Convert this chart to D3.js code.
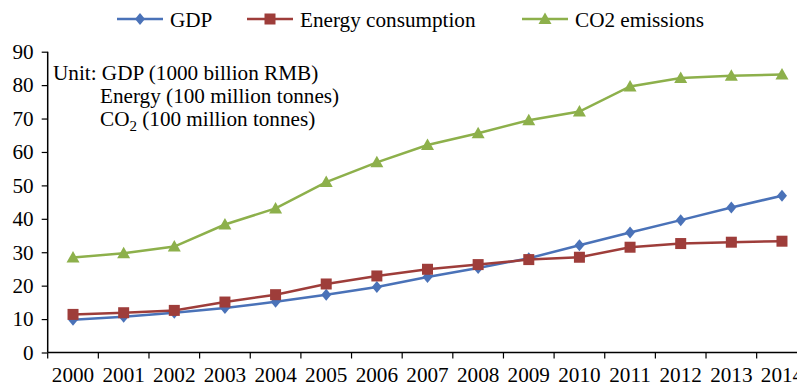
<!DOCTYPE html>
<html><head><meta charset="utf-8">
<script src="https://cdn.jsdelivr.net/npm/d3@7/dist/d3.min.js"></script>
<style>
body{margin:0;background:#fff;}
svg{display:block;font-family:"Liberation Serif","Times New Roman",serif;}
</style></head>
<body><svg id="c" width="797" height="386"></svg>
<script>
const years = ["2000","2001","2002","2003","2004","2005","2006","2007","2008","2009","2010","2011","2012","2013","2014"];
const gdp = [9.8,10.7,11.9,13.3,15.2,17.3,19.6,22.6,25.3,28.2,32.1,35.9,39.6,43.4,46.9];
const energy = [11.4,11.9,12.6,15.1,17.3,20.5,22.9,24.9,26.3,27.8,28.5,31.5,32.6,33.0,33.3];
const co2 = [28.4,29.7,31.7,38.3,43.1,51.0,56.9,62.1,65.6,69.5,72.1,79.6,82.1,82.8,83.2];
const yTicks = [0,10,20,30,40,50,60,70,80,90];
const seriesNames = ["GDP","Energy consumption","CO2 emissions"];
const colors = ["#4A72B8","#9E3D3A","#8DB04B"];

const FS = 21.2;
const svg = d3.select("#c");
const x = d3.scaleBand().domain(years).range([47.7, 807.3]).padding(0);
const y = d3.scaleLinear().domain([0,90]).range([352.5,51.7]);

// axes
const yAxis = svg.append("g").attr("transform","translate(47.7,0)")
  .call(d3.axisLeft(y).tickValues(yTicks).tickSize(6).tickPadding(8));
yAxis.select(".domain").attr("stroke","#000").attr("stroke-width",1.5).attr("d","M0,352.5V51.7");
yAxis.selectAll(".tick line").attr("stroke","#000").attr("stroke-width",1.2);
yAxis.selectAll(".tick text").attr("font-size",FS).attr("font-family","Liberation Serif").attr("fill","#000");

const xAxis = svg.append("g").attr("transform","translate(0,352.5)")
  .call(d3.axisBottom(x).tickSize(0).tickPadding(0));
xAxis.select(".domain").attr("stroke","#000").attr("stroke-width",1.5).attr("d","M47.7,0H807.3");
xAxis.selectAll(".tick text").attr("font-size",FS).attr("font-family","Liberation Serif").attr("fill","#000")
  .attr("dy",null).attr("y",29);
// band boundary ticks
svg.append("g").selectAll("line").data(years).join("line")
  .attr("x1",d=>x(d)).attr("x2",d=>x(d)).attr("y1",352.5).attr("y2",358.5)
  .attr("stroke","#000").attr("stroke-width",1.2);

const cx = d => x(d) + x.bandwidth()/2;
const line = d3.line().x((d,i)=>cx(years[i])).y(d=>y(d));

const data = [gdp, energy, co2];

function marker(g, k, px, py){
  if (k===0){
    g.append("path").attr("d",`M${px},${py-6}L${px+5},${py}L${px},${py+6}L${px-5},${py}Z`).attr("fill",colors[k]);
  } else if (k===1){
    g.append("rect").attr("x",px-5.5).attr("y",py-5.5).attr("width",11).attr("height",11).attr("fill",colors[k]);
  } else {
    g.append("path").attr("d",`M${px},${py-6.5}L${px+6.5},${py+5}L${px-6.5},${py+5}Z`).attr("fill",colors[k]);
  }
}

data.forEach((vals,k)=>{
  const g = svg.append("g");
  g.append("path").datum(vals).attr("d",line).attr("fill","none")
    .attr("stroke",colors[k]).attr("stroke-width",2.5);
  vals.forEach((v,i)=>marker(g,k,cx(years[i]),y(v)));
});

// legend
const legX = [117, 247, 522];
seriesNames.forEach((n,k)=>{
  const g = svg.append("g");
  g.append("line").attr("x1",legX[k]).attr("x2",legX[k]+46).attr("y1",19).attr("y2",19)
    .attr("stroke",colors[k]).attr("stroke-width",2.5);
  marker(g,k,legX[k]+23,19);
  g.append("text").attr("x",legX[k]+53).attr("y",26.5).attr("font-size",FS).text(n);
});

// unit annotation
const ann = svg.append("g").attr("font-size",FS).attr("fill","#000");
ann.append("text").attr("x",53).attr("y",80).text("Unit: GDP (1000 billion RMB)");
ann.append("text").attr("x",100).attr("y",103).text("Energy (100 million tonnes)");
const t3 = ann.append("text").attr("x",100).attr("y",126);
t3.append("tspan").text("CO");
t3.append("tspan").attr("font-size",15).attr("dy",5).text("2");
t3.append("tspan").attr("dy",-5).text(" (100 million tonnes)");
</script></body></html>
